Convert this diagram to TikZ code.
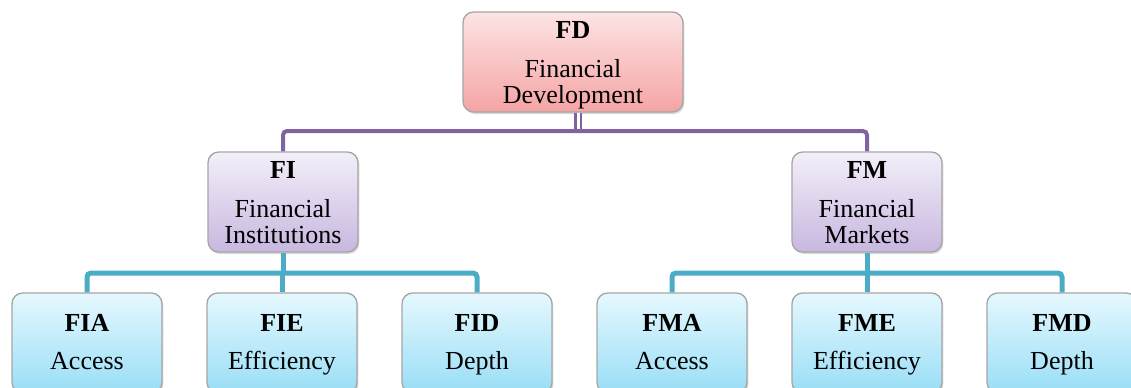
\documentclass[tikz,border=0pt]{standalone}
\usepackage{fontspec}
\setmainfont{Liberation Serif}
\usetikzlibrary{shadows}
\definecolor{boxline}{HTML}{A6A6A6}
\definecolor{fdtop}{HTML}{FDE4E4}
\definecolor{fdbot}{HTML}{F5A4A4}
\definecolor{midtop}{HTML}{F3EFF9}
\definecolor{midbot}{HTML}{C8B7DF}
\definecolor{leaftop}{HTML}{E6F8FE}
\definecolor{leafbot}{HTML}{98DEF6}
\definecolor{purpline}{HTML}{8064A2}
\definecolor{cyanline}{HTML}{4BACC6}
\begin{document}
\begin{tikzpicture}[x=0.75pt,y=-0.75pt]
\tikzstyle{every node}=[font=\fontsize{19.5}{20}\selectfont,align=center]
\tikzstyle{box}=[draw=boxline,line width=1pt,rounded corners=8pt,minimum width=112.5pt,minimum height=75pt,drop shadow={shadow xshift=1pt,shadow yshift=-1.5pt,opacity=0.3}]
\tikzstyle{topbox}=[box,inner ysep=0pt,minimum width=165pt,top color=fdtop,bottom color=fdbot]
\tikzstyle{midbox}=[box,inner ysep=0pt,top color=midtop,bottom color=midbot]
\tikzstyle{leafbox}=[box,top color=leaftop,bottom color=leafbot]
\tikzstyle{plink}=[draw=purpline,line width=3pt]
\tikzstyle{clink}=[draw=cyanline,line width=3.75pt]
\clip (0,0) rectangle (1131,387);
% boxes
\node[topbox](FD) at (573,62){\rule{0pt}{19.8pt}\textbf{FD}\strut\\[9pt]Financial\strut\\Development\strut};
\node[midbox](FI) at (283,202){\rule{0pt}{19.8pt}\textbf{FI}\strut\\[9pt]Financial\strut\\Institutions\strut};
\node[midbox](FM) at (867,202){\rule{0pt}{19.8pt}\textbf{FM}\strut\\[9pt]Financial\strut\\Markets\strut};
\node[leafbox](FIA) at (87,343){\rule{0pt}{17pt}\textbf{FIA}\strut\\[9pt]Access\strut};
\node[leafbox](FIE) at (282,343){\rule{0pt}{17pt}\textbf{FIE}\strut\\[9pt]Efficiency\strut};
\node[leafbox](FID) at (477,343){\rule{0pt}{17pt}\textbf{FID}\strut\\[9pt]Depth\strut};
\node[leafbox](FMA) at (672,343){\rule{0pt}{17pt}\textbf{FMA}\strut\\[9pt]Access\strut};
\node[leafbox](FME) at (867,343){\rule{0pt}{17pt}\textbf{FME}\strut\\[9pt]Efficiency\strut};
\node[leafbox](FMD) at (1062,343){\rule{0pt}{17pt}\textbf{FMD}\strut\\[9pt]Depth\strut};
% links
\coordinate (pbar) at (578,131);
\coordinate (ibar) at (283,273);
\coordinate (mbar) at (867,273);
\draw[draw=purpline,line width=2.1pt,double=white,double distance=2pt]([xshift=4pt]FD.south)--([xshift=4pt]FD.south|-pbar);
\draw[plink,rounded corners=3pt](FI.north)--(FI.north|-pbar)--(FM.north|-pbar)--(FM.north);
\draw[clink](FI.south)--(ibar);
\draw[clink,rounded corners=3pt](FIA.north)--(FIA.north|-ibar)--(FID.north|-ibar)--(FID.north);
\draw[clink](FIE.north)--(FIE.north|-ibar);
\draw[clink](FM.south)--(mbar);
\draw[clink,rounded corners=3pt](FMA.north)--(FMA.north|-mbar)--(FMD.north|-mbar)--(FMD.north);
\draw[clink](FME.north)--(FME.north|-mbar);
\end{tikzpicture}
\end{document}
